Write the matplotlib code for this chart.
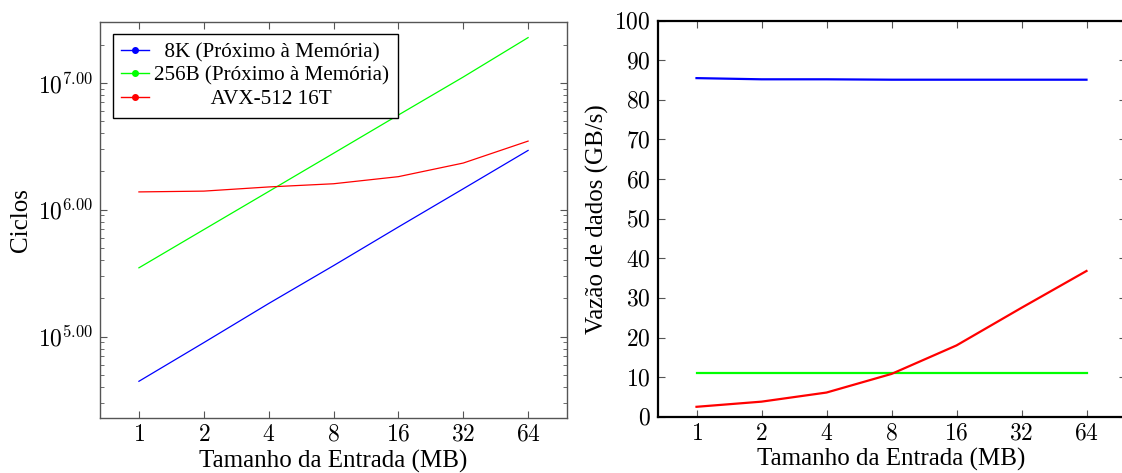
import numpy as np
import matplotlib
matplotlib.use("Agg")
import matplotlib.pyplot as plt
from matplotlib.lines import Line2D
from matplotlib.ticker import FixedLocator, FuncFormatter, LogLocator, NullFormatter, NullLocator

sizes_mb = [1, 2, 4, 8, 16, 32, 64]

series_names = ["8K (Próximo à Memória)", "256B (Próximo à Memória)", "AVX-512 16T"]
series_colors = ["#0000ff", "#00ff00", "#ff0000"]

cycles_8k = [44400, 89500, 182000, 362000, 730000, 1460000, 2930000]
cycles_256b = [348000, 696000, 1390000, 2780000, 5570000, 11100000, 22700000]
cycles_avx = [1380000, 1400000, 1510000, 1600000, 1820000, 2330000, 3470000]

thr_8k = [85.5, 85.2, 85.2, 85.1, 85.1, 85.1, 85.1]
thr_256b = [11.1, 11.1, 11.1, 11.1, 11.1, 11.1, 11.1]
thr_avx = [2.5, 3.8, 6.1, 10.8, 18.0, 27.5, 36.8]

W, H = 1122, 473
fig = plt.figure(figsize=(W / 100, H / 100), dpi=100)
plt.rcParams['font.family'] = ['Liberation Serif', 'DejaVu Serif']
plt.rcParams['mathtext.fontset'] = 'cm'

LBL = 18
TCK = 17

def px_axes(x0, y0, x1, y1):
    return fig.add_axes([x0 / W, 1 - y1 / H, (x1 - x0) / W, (y1 - y0) / H])

ax1 = px_axes(100, 22, 567, 418)
ax2 = px_axes(657.5, 20.7, 1125.5, 416.7)

xlim = (2 ** -0.6, 2 ** 6.6)

# ---- left: cycles ----
for vals, c in zip([cycles_8k, cycles_256b, cycles_avx], series_colors):
    ax1.plot(sizes_mb, vals, color=c, lw=0.9)
ax1.set_xscale('log', base=2)
ax1.set_yscale('log')
ax1.set_xlim(*xlim)
ax1.set_ylim(10 ** 4.358, 10 ** 7.479)
ax1.xaxis.set_major_locator(FixedLocator(sizes_mb))
ax1.xaxis.set_minor_locator(NullLocator())
ax1.xaxis.set_major_formatter(FuncFormatter(lambda v, p: "$%d$" % round(v)))
ax1.yaxis.set_major_locator(LogLocator(base=10, numticks=10))
ax1.yaxis.set_minor_locator(LogLocator(base=10, subs=np.arange(2, 10), numticks=20))
ax1.yaxis.set_minor_formatter(NullFormatter())
ax1.yaxis.set_major_formatter(FuncFormatter(lambda v, p: "$10^{%.2f}$" % np.log10(v)))
for sp in ax1.spines.values():
    sp.set_color('#555555')
    sp.set_linewidth(1.0)
ax1.tick_params(which='both', direction='in', top=True, right=True, color='#555555')
ax1.tick_params(which='major', length=5, labelsize=TCK, pad=5)
ax1.tick_params(which='minor', length=3)
ax1.set_xlabel("Tamanho da Entrada (MB)", fontsize=LBL, labelpad=2.5)
ax1.set_ylabel("Ciclos", fontsize=LBL, labelpad=4)

handles = [Line2D([], [], color=c, lw=1.0, marker='o', markersize=4) for c in series_colors]
labels = ["  " + series_names[0], series_names[1], "           " + series_names[2]]
leg = ax1.legend(handles, labels, loc='upper left', bbox_to_anchor=(13 / 467, 1 - 12 / 396),
                 borderaxespad=0, fontsize=15.2, frameon=True, fancybox=False, framealpha=1,
                 edgecolor='black', handlelength=1.3, handletextpad=0.25, labelspacing=0.18,
                 borderpad=0.4)
leg.get_frame().set_linewidth(1.0)

# ---- right: throughput ----
for vals, c in zip([thr_8k, thr_256b, thr_avx], series_colors):
    ax2.plot(sizes_mb, vals, color=c, lw=1.6)
ax2.set_xscale('log', base=2)
ax2.set_xlim(*xlim)
ax2.set_ylim(0, 100)
ax2.xaxis.set_major_locator(FixedLocator(sizes_mb))
ax2.xaxis.set_minor_locator(NullLocator())
ax2.xaxis.set_major_formatter(FuncFormatter(lambda v, p: "$%d$" % round(v)))
ax2.yaxis.set_major_locator(FixedLocator(np.arange(0, 101, 10)))
ax2.yaxis.set_major_formatter(FuncFormatter(lambda v, p: "$%d$" % round(v)))
for sp in ax2.spines.values():
    sp.set_color('black')
    sp.set_linewidth(1.6)
ax2.tick_params(which='both', direction='in', top=True, right=True, color='#555555')
ax2.tick_params(which='major', length=5, labelsize=TCK, pad=5)
ax2.set_xlabel("Tamanho da Entrada (MB)", fontsize=LBL, labelpad=2.5)
ax2.set_ylabel("Vazão de dados (GB/s)", fontsize=LBL, labelpad=4)

fig.savefig("out.png", dpi=100)
